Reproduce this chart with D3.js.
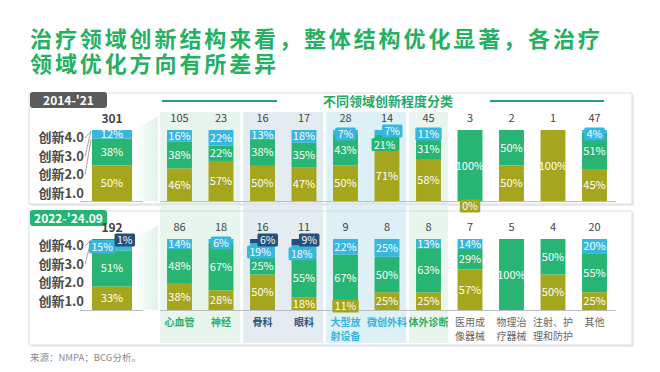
<!DOCTYPE html>
<html lang="zh">
<head>
<meta charset="utf-8">
<script src="https://cdn.jsdelivr.net/npm/d3@7"></script>
<style>
    body{ margin:0; background:#fff; }
    text{ font-family:"Noto Sans CJK SC","Noto Sans",sans-serif; }
    .seg-label{ fill:#fff; font-size:11px; text-anchor:middle; }
    .count{ fill:#444; font-size:11px; text-anchor:middle; }
    .legend-label{ fill:#4a4a4a; font-size:13px; font-weight:bold; text-anchor:end; }
</style>
</head>
<body>
<div id="chart"></div>
<script>

// categories and tick labels
var categories = ["心血管","神经","骨科","眼科","大型放射设备","微创外科","体外诊断","医用成像器械","物理治疗器械","注射、护理和防护","其他"]
var categoryLines = [["心血管"],["神经"],["骨科"],["眼科"],["大型放","射设备"],["微创外科"],["体外诊断"],["医用成","像器械"],["物理治","疗器械"],["注射、护","理和防护"],["其他"]]
var categoryGroup = [0,0,1,1,2,2,3,-1,-1,-1,-1]
var periods = ["2014-'21","2022-'24.09"]
var levels = ["创新4.0","创新3.0","创新2.0","创新1.0"]

// overall bar, one value per period
var overallCount = [301,192]
var overall10 = [50,33]
var overall20 = [38,51]
var overall30 = [12,15]
var overall40 = [null,1]

// 2014-'21 (shares in %, null = no segment)
var count14 = [105,23,16,17,28,14,45,3,2,1,47]
var share10_14 = [46,57,50,47,50,71,58,0,50,100,45]
var share20_14 = [38,22,38,35,43,21,31,100,50,null,51]
var share30_14 = [16,22,13,18,7,7,11,null,null,null,4]
var share40_14 = [null,null,null,null,null,null,null,null,null,null,null]

// 2022-'24.09
var count22 = [86,18,16,11,9,8,8,7,5,4,20]
var share10_22 = [38,28,50,18,11,25,25,57,null,50,25]
var share20_22 = [48,67,25,55,67,50,63,29,100,50,55]
var share30_22 = [14,6,19,18,22,25,13,14,null,null,20]
var share40_22 = [null,null,6,9,null,null,null,null,null,null,null]

var width = 660, height = 372
var colors = ["#a5a61d","#28b573","#37b6de","#23507a"]   // 1.0, 2.0, 3.0, 4.0
var groupFill = ["#e7f5ed","#e4ecf2","#dcf0f6","#e7f5ed"]
var groupText = ["#27ae67","#2a5a80","#35b3da","#27ae67"]

var svg = d3.select("#chart").append("svg")
    .attr("width", width)
    .attr("height", height)

// title
var title = svg.append("text")
    .attr("x", 30)
    .style("font-size","22px")
    .style("font-weight","bold")
    .style("letter-spacing","2.9px")
    .attr("fill","#25b062")
title.append("tspan").attr("x",30).attr("y",47).text("治疗领域创新结构来看，整体结构优化显著，各治疗")
title.append("tspan").attr("x",30).attr("y",72).text("领域优化方向有所差异")

var x = d3.scaleBand()
    .domain(categories)
    .range([158.75, 615.25])
    .paddingInner(0.4)
    .paddingOuter(0.2)
var pad = x.step() * 0.2

var panels = [
    {y0:93, y1:204, top:130, base:201, label:periods[0], labelFill:"#5b5b5b", legendY:142, lines:3,
     count:count14, s:[share10_14,share20_14,share30_14,share40_14]},
    {y0:211, y1:345, top:239, base:310, label:periods[1], labelFill:"#22b573", legendY:250, lines:2,
     count:count22, s:[share10_22,share20_22,share30_22,share40_22]}
]

// panel backgrounds
panels.forEach(function(p){
    svg.append("rect")
        .attr("x",31).attr("y",p.y0+2).attr("width",603).attr("height",p.y1-p.y0)
        .attr("fill","#e9ecef")
    svg.append("rect")
        .attr("x",29).attr("y",p.y0).attr("width",603).attr("height",p.y1-p.y0)
        .attr("fill","#fff")
})

// group shading behind the columns
var groups = d3.groups(categories.map(function(c,i){ return {c:c, g:categoryGroup[i]} }).filter(d => d.g >= 0), d => d.g)
groups.forEach(function(gr){
    var first = gr[1][0].c, last = gr[1][gr[1].length-1].c
    var x0 = x(first) - pad + 1.5, x1 = x(last) + x.bandwidth() + pad - 1.5
    svg.append("rect")
        .attr("x",x0).attr("y",112).attr("width",x1-x0).attr("height",231)
        .attr("fill",groupFill[gr[0]])
})

// faint wedge from overall bar to the categories
var defs = svg.append("defs")
var grad = defs.append("linearGradient").attr("id","wedge")
grad.append("stop").attr("offset","0%").attr("stop-color","#ffffff")
grad.append("stop").attr("offset","100%").attr("stop-color","#d6f1e4")
panels.forEach(function(p){
    svg.append("path")
        .attr("d", d3.line()([[134,p.top+1],[158,p.top-14],[158,p.base],[134,p.base]]))
        .attr("fill","url(#wedge)")
        .attr("opacity",0.8)
})

// panel borders and period labels
panels.forEach(function(p){
    svg.append("rect")
        .attr("x",29).attr("y",p.y0).attr("width",603).attr("height",p.y1-p.y0)
        .attr("fill","none").attr("stroke","#d9dde1")
    svg.append("rect")
        .attr("x",30).attr("y",p.y0-1).attr("width",77).attr("height",16).attr("rx",3)
        .attr("fill",p.labelFill)
    svg.append("text")
        .attr("x",68.5).attr("y",p.y0+11.5)
        .attr("text-anchor","middle")
        .attr("fill","#fff")
        .style("font-size","12px").style("font-weight","bold")
        .text(p.label)
})

// header
svg.append("text")
    .attr("x",388).attr("y",106)
    .attr("text-anchor","middle")
    .attr("fill","#27a866")
    .style("font-size","13px").style("font-weight","bold")
    .text("不同领域创新程度分类")
svg.append("line").attr("x1",162).attr("x2",277).attr("y1",101).attr("y2",101).attr("stroke","#2a9a84").attr("stroke-width",2)
svg.append("line").attr("x1",490).attr("x2",604).attr("y1",101).attr("y2",101).attr("stroke","#2a9a84").attr("stroke-width",2)

function badge(g, cx, cy, v, color, anchor){
    var b = g.append("g")
    var r = b.append("rect")
    var t = b.append("text")
        .attr("class","seg-label")
        .style("font-size","10.5px")
        .attr("y", cy + 4)
        .text(v + "%")
    var w = t.node().getComputedTextLength() + 5
    var left = anchor === "left" ? cx : anchor === "right" ? cx - w : cx - w/2
    t.attr("x", left + w/2)
    r.attr("x",left).attr("y",cy-6.5).attr("width",w).attr("height",13).attr("rx",1.5)
        .attr("fill",color)
}

// one stacked bar
function drawBar(g, bx, bw, shares, y, base){
    var sum = d3.sum(shares)
    var cum = 0
    var segs = shares.map(function(v,i){
        if (v === null) return null
        var s = {i:i, v:v, y0:cum, y1:cum+v}
        cum += v
        return s
    })
    var sc = y.copy().domain([0,sum])
    var present = segs.filter(d => d)
    present.forEach(function(s){
        if (s.v > 0) g.append("rect")
            .attr("x",bx).attr("y",sc(s.y1)).attr("width",bw).attr("height",sc(s.y0)-sc(s.y1))
            .attr("fill",colors[s.i])
    })
    // labels
    var mode = {}
    present.forEach(function(s,k){
        if (s.v < 12) {
            mode[s.i] = "center"
            var below = present[k-1]
            if (below && below.v < 25 && s.i > 0) { mode[s.i] = "right"; mode[below.i] = "left" }
        }
    })
    present.forEach(function(s){
        var cy = (sc(s.y0) + sc(s.y1)) / 2
        var m = mode[s.i]
        if (m === "right") badge(g, bx + bw + 3, sc(sum) + 1, s.v, colors[s.i], "right")
        else if (m === "left") badge(g, bx - 3, cy + 2, s.v, colors[s.i], "left")
        else if (m === "center") badge(g, bx + bw/2, s.v === 0 ? base + 5 : Math.max(cy, sc(sum) + 4), s.v, colors[s.i], "center")
        else g.append("text").attr("class","seg-label")
            .attr("x",bx + bw/2).attr("y",cy + 4).text(s.v + "%")
    })
    return sc
}

panels.forEach(function(p, pi){
    var y = d3.scaleLinear().domain([0,100]).range([p.base, p.top])
    var g = svg.append("g")

    // baseline axis
    var axis = g.append("g")
        .attr("transform","translate(0," + p.base + ")")
        .call(d3.axisBottom(x).tickSize(0).tickFormat(""))
    axis.select(".domain").attr("stroke","#b9bec3").attr("d","M160,0.5H616")
    g.append("line").attr("x1",80).attr("x2",143).attr("y1",p.base+0.5).attr("y2",p.base+0.5).attr("stroke","#b9bec3")

    // category bars
    categories.forEach(function(c,i){
        var shares = p.s.map(arr => arr[i])
        drawBar(g, x(c), x.bandwidth(), shares, y, p.base)
        g.append("text").attr("class","count")
            .attr("x", x(c) + x.bandwidth()/2).attr("y", p.top - 8)
            .text(p.count[i])
    })

    // overall bar
    var ov = [overall10[pi], overall20[pi], overall30[pi], overall40[pi]]
    var sc = drawBar(g, 92, 40, ov, y, p.base)
    g.append("text").attr("class","count")
        .attr("x",112).attr("y",p.top - 7)
        .style("font-weight","bold").style("font-size","12px").attr("fill","#333")
        .text(overallCount[pi])

    // level legend with connectors
    var tops = [], cum = d3.sum(ov.filter(v => v !== null))
    for (var k = 3; k >= 1; k--) { tops.push(sc(cum)); cum -= (ov[k] || 0) }
    levels.forEach(function(l,k){
        var ly = p.legendY + k * 18.5
        g.append("text").attr("class","legend-label").attr("x",84).attr("y",ly).text(l)
        if (k < p.lines) g.append("line")
            .attr("x1",85).attr("y1",ly - 4).attr("x2",91).attr("y2",tops[k] + 1)
            .attr("stroke","#8a9096").attr("stroke-width",0.8)
    })

    // category labels under the lower panel
    if (pi === 1) {
        categories.forEach(function(c,i){
            var gi = categoryGroup[i]
            var t = g.append("text")
                .attr("text-anchor","middle")
                .attr("fill", gi >= 0 ? groupText[gi] : "#666")
                .style("font-size","10px")
                .style("font-weight", gi >= 0 ? "bold" : "normal")
            categoryLines[i].forEach(function(line,j){
                t.append("tspan").attr("x", x(c) + x.bandwidth()/2).attr("y", 326 + j*13.5).text(line)
            })
        })
    }
})

// source
svg.append("text")
    .attr("x",30).attr("y",361)
    .attr("fill","#8a8a8a")
    .style("font-size","9.5px")
    .text("来源：NMPA；BCG分析。")

</script>
</body>
</html>
